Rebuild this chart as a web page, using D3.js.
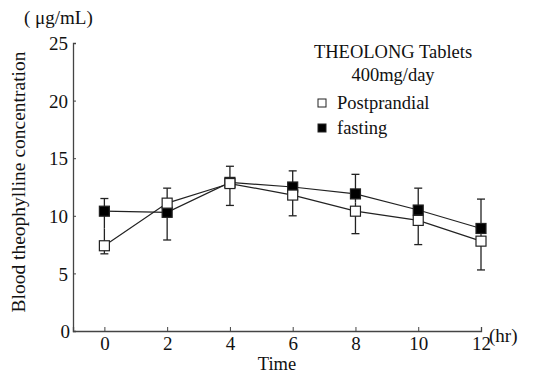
<!DOCTYPE html>
<html>
<head>
<meta charset="utf-8">
<script src="https://cdn.jsdelivr.net/npm/d3@7"></script>
<style>
  body { margin: 0; background: #fff; }
  text { font-family: "Liberation Serif", "DejaVu Serif", serif; fill: #111; }
</style>
</head>
<body>
<div id="chart"></div>
<script>
var time = [0, 2, 4, 6, 8, 10, 12];
var postprandial = [7.4, 11.1, 12.8, 11.8, 10.4, 9.6, 7.8];
var postSD = [0.7, 1.3, 1.9, 1.8, 1.95, 2.1, 2.5];
var fasting = [10.4, 10.3, 12.9, 12.5, 11.9, 10.5, 8.9];
var fastSD = [1.1, 2.4, 1.4, 1.4, 1.7, 1.9, 2.55];
var yTicks = [0, 5, 10, 15, 20, 25];

var width = 543, height = 376;

var svg = d3.select("#chart").append("svg")
  .attr("width", width)
  .attr("height", height);

var x = d3.scaleLinear().domain([-1, 12]).range([73, 481]);
var y = d3.scaleLinear().domain([0, 25]).range([331, 43]);

// axes
var xAxis = d3.axisBottom(x).tickValues(time).tickSize(-4).tickPadding(6);
var yAxis = d3.axisLeft(y).tickValues(yTicks).tickSize(-3).tickPadding(5);

var gx = svg.append("g").attr("transform", "translate(0," + y(0) + ")").call(xAxis);
var gy = svg.append("g").attr("transform", "translate(" + x(-1) + ",0)").call(yAxis);
[gx, gy].forEach(function(g) {
  g.select(".domain").attr("stroke", "#444").attr("stroke-width", 1.3);
  g.selectAll(".tick line").attr("stroke", "#444");
  g.selectAll(".tick text").style("font-size", "19px")
    .style("font-family", "'Liberation Serif', serif").attr("fill", "#111");
});
gy.selectAll(".tick text").attr("dy", "0.35em");
gy.selectAll(".tick").filter(function(d) { return d === 0; }).select("text").attr("dx", 2);

svg.append("text").attr("x", 489).attr("y", y(0) + 11).style("font-size", "19px").text("(hr)");
svg.append("text").attr("x", x(5.5)).attr("y", 370).attr("text-anchor", "middle")
  .style("font-size", "18.5px").text("Time");
svg.append("text").attr("x", 24).attr("y", 24).style("font-size", "19px").text("(\u00a0\u03bcg/mL)");
svg.append("text")
  .attr("transform", "translate(25," + ((y(0) + y(25)) / 2 - 5) + ") rotate(-90)")
  .attr("text-anchor", "middle")
  .style("font-size", "19.5px")
  .text("Blood theophylline concentration");

// error bars: outward half only
var series = [
  { vals: postprandial, sd: postSD, fill: "#fff" },
  { vals: fasting, sd: fastSD, fill: "#000" }
];
var errG = svg.append("g");
time.forEach(function(t, i) {
  var hi = fasting[i] >= postprandial[i] ? 1 : 0;
  var top = series[hi].vals[i] + series[hi].sd[i];
  var bot = series[1 - hi].vals[i] - series[1 - hi].sd[i];
  var mid = (fasting[i] + postprandial[i]) / 2;
  [[mid, top], [mid, bot]].forEach(function(p) {
    errG.append("line")
      .attr("x1", x(t)).attr("x2", x(t))
      .attr("y1", y(p[0])).attr("y2", y(p[1]))
      .attr("stroke", "#222").attr("stroke-width", 1.3);
    errG.append("line")
      .attr("x1", x(t) - 4).attr("x2", x(t) + 4)
      .attr("y1", y(p[1])).attr("y2", y(p[1]))
      .attr("stroke", "#222").attr("stroke-width", 1.3);
  });
});

var line = d3.line().x(function(d, i) { return x(time[i]); }).y(function(d) { return y(d); });

series.forEach(function(s) {
  svg.append("path").datum(s.vals)
    .attr("d", line).attr("fill", "none")
    .attr("stroke", "#222").attr("stroke-width", 1.2);
});
series.slice().reverse().forEach(function(s) {
  svg.append("g").selectAll("rect").data(s.vals).enter().append("rect")
    .attr("x", function(d, i) { return x(time[i]) - 5; })
    .attr("y", function(d) { return y(d) - 5; })
    .attr("width", 10).attr("height", 10)
    .attr("fill", s.fill).attr("stroke", "#222").attr("stroke-width", 1.2);
});

// legend
svg.append("text").attr("x", 393).attr("y", 58).attr("text-anchor", "middle")
  .style("font-size", "18.5px").text("THEOLONG Tablets");
svg.append("text").attr("x", 393).attr("y", 81).attr("text-anchor", "middle")
  .style("font-size", "18.5px").text("400mg/day");
var legendNames = ["Postprandial", "fasting"];
legendNames.forEach(function(n, i) {
  svg.append("rect").attr("x", 318).attr("y", 99 + i * 25).attr("width", 8).attr("height", 8)
    .attr("fill", series[i].fill).attr("stroke", "#222").attr("stroke-width", 1);
  svg.append("text").attr("x", 337).attr("y", 109 + i * 25)
    .style("font-size", "18.5px").text(n);
});
</script>
</body>
</html>
